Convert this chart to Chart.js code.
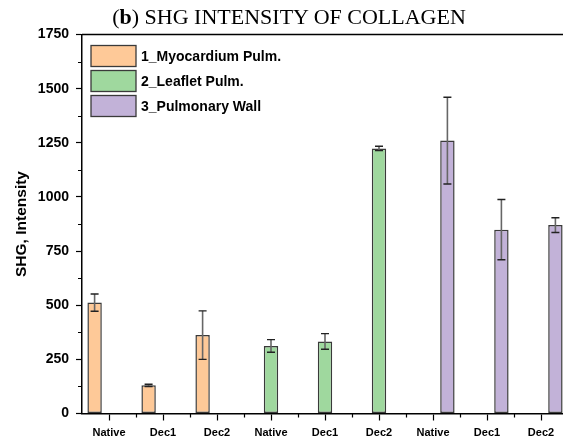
<!DOCTYPE html>
<html>
<head>
<meta charset="utf-8">
<script src="https://cdn.jsdelivr.net/npm/chart.js@4/dist/chart.umd.min.js"></script>
<style>
  html, body { margin: 0; padding: 0; background: #fff; overflow: hidden; }
  #wrap { position: relative; width: 570px; height: 442px; }
  #title {
    position: absolute; left: 0; top: 4px; width: 578px; text-align: center;
    font-family: "Liberation Serif", "DejaVu Serif", serif; font-size: 22px; color: #000;
    white-space: nowrap;
  }
  canvas { position: absolute; left: 0; top: 0; }
</style>
</head>
<body>
<div id="wrap">
  <canvas id="c" width="570" height="442"></canvas>
  <div id="title">(<b>b</b>) SHG INTENSITY OF COLLAGEN</div>
</div>
<script>
// Sample groups along the x axis
const categories = ['Native', 'Dec1', 'Dec2', 'Native', 'Dec1', 'Dec2', 'Native', 'Dec1', 'Dec2'];

// Mean SHG intensity per tissue and its standard deviation
const myocardium    = [512, 130, 362, null, null, null, null, null, null];
const myocardiumErr = [40, 5, 112, null, null, null, null, null, null];
const leaflet       = [null, null, null, 312, 333, 1224, null, null, null];
const leafletErr    = [null, null, null, 29, 36, 10, null, null, null];
const pulmonary     = [null, null, null, null, null, null, 1260, 849, 870];
const pulmonaryErr  = [null, null, null, null, null, null, 200, 139, 34];

const seriesNames = ['1_Myocardium Pulm.', '2_Leaflet Pulm.', '3_Pulmonary Wall'];
const yTicks = [0, 250, 500, 750, 1000, 1250, 1500, 1750];

const fills = ['#FEC998', '#9FD89E', '#C2B2D8'];
const edge = '#3a3a3a';

// Error bars drawn at each bar's centre through the y scale
const errorBars = {
  id: 'errorBars',
  afterDatasetsDraw(chart) {
    const ctx = chart.ctx;
    const y = chart.scales.y;
    chart.data.datasets.forEach((ds, i) => {
      const meta = chart.getDatasetMeta(i);
      ds.data.forEach((v, j) => {
        if (v == null || ds.err[j] == null) return;
        const x = meta.data[j].x;
        const top = y.getPixelForValue(v + ds.err[j]);
        const bot = y.getPixelForValue(v - ds.err[j]);
        ctx.save();
        ctx.strokeStyle = '#666';
        ctx.lineWidth = 1.6;
        ctx.beginPath(); ctx.moveTo(x, top); ctx.lineTo(x, bot); ctx.stroke();
        ctx.strokeStyle = '#222';
        ctx.lineWidth = 1.4;
        ctx.beginPath();
        ctx.moveTo(x - 4, top); ctx.lineTo(x + 4, top);
        ctx.moveTo(x - 4, bot); ctx.lineTo(x + 4, bot);
        ctx.stroke();
        ctx.restore();
      });
    });
  }
};

// Minor ticks, top frame line and boxed legend
const frameAndLegend = {
  id: 'frameAndLegend',
  afterDraw(chart) {
    const ctx = chart.ctx;
    const a = chart.chartArea;
    const x = chart.scales.x;
    const y = chart.scales.y;
    ctx.save();
    ctx.strokeStyle = '#000';
    ctx.lineWidth = 1.5;
    ctx.beginPath();
    ctx.moveTo(a.left, a.top); ctx.lineTo(a.right, a.top);
    ctx.stroke();
    ctx.lineWidth = 1.2;
    ctx.beginPath();
    for (let v = 125; v < 1750; v += 250) {
      const py = Math.round(y.getPixelForValue(v)) + 0.5;
      ctx.moveTo(a.left - 4, py); ctx.lineTo(a.left, py);
    }
    for (let i = 1; i < categories.length + 1; i++) {
      const px = Math.round(x.getPixelForValue(i - 0.5)) + 0.5;
      ctx.moveTo(px, a.bottom); ctx.lineTo(px, a.bottom + 4);
    }
    ctx.stroke();

    // legend
    const bx = a.left + 9, bw = 45, bh = 21;
    ctx.font = 'bold 14px "Liberation Sans", Arial, sans-serif';
    ctx.textBaseline = 'middle';
    ctx.textAlign = 'left';
    chart.data.datasets.forEach((ds, i) => {
      const by = a.top + 11 + i * 25;
      ctx.fillStyle = ds.backgroundColor;
      ctx.fillRect(bx, by, bw, bh);
      ctx.strokeStyle = edge;
      ctx.lineWidth = 1.3;
      ctx.strokeRect(bx, by, bw, bh);
      ctx.fillStyle = '#000';
      ctx.fillText(ds.label, bx + bw + 5, by + bh / 2 + 1);
    });
    ctx.restore();
  }
};

const mk = (label, data, err, color) => ({
  label, data, err,
  backgroundColor: color,
  borderColor: edge,
  borderWidth: 1.5,
  borderSkipped: false,
  categoryPercentage: 0.8,
  barPercentage: 1.0
});

new Chart(document.getElementById('c'), {
  type: 'bar',
  data: {
    labels: categories,
    datasets: [
      mk(seriesNames[0], myocardium, myocardiumErr, fills[0]),
      mk(seriesNames[1], leaflet, leafletErr, fills[1]),
      mk(seriesNames[2], pulmonary, pulmonaryErr, fills[2])
    ]
  },
  options: {
    responsive: false,
    animation: false,
    layout: { padding: { top: 34.5, right: 2, left: 0, bottom: 0 } },
    plugins: { legend: { display: false }, tooltip: { enabled: false }, title: { display: false } },
    scales: {
      x: {
        offset: true,
        grid: { display: true, offset: false, drawOnChartArea: false, tickLength: 7, tickColor: '#000', tickWidth: 1.2 },
        border: { display: true, color: '#000', width: 1.5 },
        ticks: {
          color: '#000', padding: 6, maxRotation: 0, autoSkip: false,
          font: { family: '"Liberation Sans", Arial, sans-serif', size: 11, weight: 'bold' }
        },
        afterFit(s) { s.height = 28.5; }
      },
      y: {
        min: 0, max: 1750,
        afterBuildTicks(s) { s.ticks = yTicks.map(v => ({ value: v })); },
        grid: { display: true, drawOnChartArea: false, tickLength: 6, tickColor: '#000', tickWidth: 1.2 },
        border: { display: true, color: '#000', width: 1.5 },
        ticks: {
          color: '#000', padding: 7,
          callback: v => String(v),
          font: { family: '"Liberation Sans", Arial, sans-serif', size: 14, weight: 'bold' }
        },
        title: {
          display: true, text: 'SHG, Intensity', color: '#000',
          padding: { top: 12, bottom: 0 },
          font: { family: '"Liberation Sans", Arial, sans-serif', size: 15.5, weight: 'bold' }
        },
        afterFit(s) { s.width = 82; }
      }
    }
  },
  plugins: [errorBars, frameAndLegend]
});
</script>
</body>
</html>
